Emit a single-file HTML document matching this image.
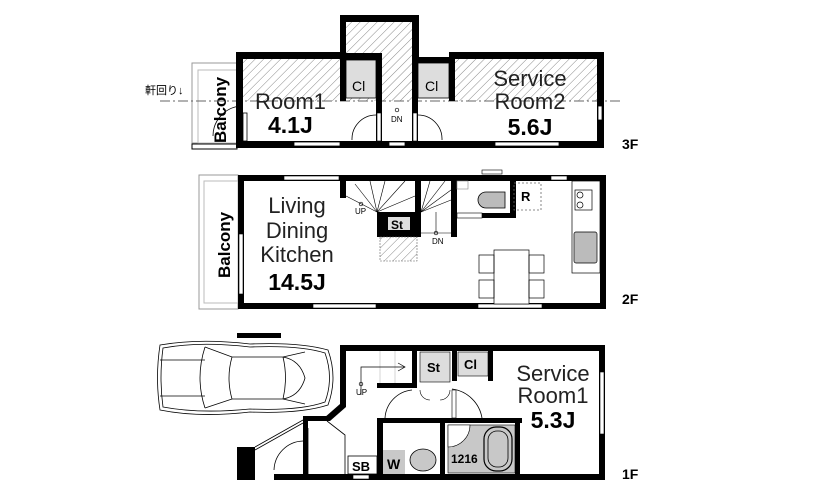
<!DOCTYPE html>
<html><head><meta charset="utf-8"><style>
body{margin:0;background:#fff;}
svg{display:block;font-family:"Liberation Sans","Noto Sans CJK JP",sans-serif;}
</style></head><body>
<svg width="820" height="500" viewBox="0 0 820 500" xmlns="http://www.w3.org/2000/svg">
<defs>
<pattern id="h" width="6" height="6" patternUnits="userSpaceOnUse" patternTransform="rotate(45)">
<line x1="0" y1="0" x2="0" y2="6" stroke="#555" stroke-width="0.7"/>
</pattern>
</defs>
<rect width="820" height="500" fill="#fff"/>

<!-- ===== 3F ===== -->
<g>
<rect x="192" y="63" width="45" height="80" fill="none" stroke="#999" stroke-width="1"/>
<rect x="198" y="70" width="39" height="73" fill="none" stroke="#bbb" stroke-width="1"/>
<rect x="192" y="144" width="45" height="5" fill="#fff" stroke="#000" stroke-width="1"/>
<text x="0" y="0" transform="translate(226,143) rotate(-90)" font-size="17" font-weight="bold">Balcony</text>
<text x="145" y="94" font-size="11">軒回り↓</text>
<rect x="243" y="58" width="97" height="43" fill="url(#h)"/>
<rect x="455" y="58" width="142" height="43" fill="url(#h)"/>
<rect x="346" y="21" width="66" height="80" fill="url(#h)"/>
<rect x="385" y="101" width="27" height="40" fill="#fff"/>
<line x1="160" y1="101" x2="620" y2="101" stroke="#666" stroke-width="1" stroke-dasharray="10,3,2,3"/>
<rect x="236" y="52" width="7" height="96" fill="#000"/>
<rect x="236" y="52" width="110" height="7" fill="#000"/>
<rect x="340" y="15" width="79" height="7" fill="#000"/>
<rect x="340" y="15" width="6" height="86" fill="#000"/>
<rect x="412" y="15" width="7" height="48" fill="#000"/>
<rect x="340" y="53" width="42" height="7" fill="#000"/>
<rect x="376" y="53" width="6" height="90" fill="#000"/>
<rect x="412" y="57" width="43" height="6" fill="#000"/>
<rect x="412" y="57" width="6" height="86" fill="#000"/>
<rect x="449" y="52" width="6" height="49" fill="#000"/>
<rect x="449" y="52" width="155" height="7" fill="#000"/>
<rect x="597" y="52" width="7" height="96" fill="#000"/>
<rect x="236" y="141" width="368" height="7" fill="#000"/>
<rect x="346" y="60" width="30" height="38" fill="#ddd" stroke="#000" stroke-width="0.8"/>
<text x="352" y="91" font-size="14">Cl</text>
<rect x="418" y="63" width="31" height="35" fill="#ddd" stroke="#000" stroke-width="0.8"/>
<text x="425" y="91" font-size="14">Cl</text>
<rect x="243" y="113" width="4" height="28" fill="#fff" stroke="#000" stroke-width="0.8"/>
<rect x="294" y="142" width="46" height="4" fill="#fff" stroke="#000" stroke-width="0.8"/>
<rect x="495" y="142" width="64" height="4" fill="#fff" stroke="#000" stroke-width="0.8"/>
<rect x="389" y="142" width="16" height="4" fill="#fff" stroke="#000" stroke-width="0.8"/>
<rect x="598" y="106" width="4" height="14" fill="#fff" stroke="#000" stroke-width="0.8"/>
<path d="M243 106 A30 30 0 0 0 213 136" fill="none" stroke="#000" stroke-width="0.8"/>
<path d="M376 115 A24 24 0 0 0 352 140" fill="none" stroke="#000" stroke-width="0.8"/>
<path d="M418 115 A24 24 0 0 1 442 140" fill="none" stroke="#000" stroke-width="0.8"/>
<rect x="377" y="113" width="4" height="28" fill="#fff" stroke="#000" stroke-width="0.6"/>
<rect x="413" y="113" width="4" height="28" fill="#fff" stroke="#000" stroke-width="0.6"/>
<circle cx="397" cy="110" r="1.8" fill="none" stroke="#000" stroke-width="0.7"/>
<text x="391" y="122" font-size="8">DN</text>
<text x="255" y="109" font-size="22" fill="#222">Room1</text>
<text x="268" y="133" font-size="23" font-weight="bold">4.1J</text>
<text x="530" y="86" font-size="22" text-anchor="middle" fill="#222">Service</text>
<text x="530" y="109" font-size="22" text-anchor="middle" fill="#222">Room2</text>
<text x="530" y="135" font-size="23" font-weight="bold" text-anchor="middle">5.6J</text>
<text x="622" y="149" font-size="14" font-weight="bold">3F</text>
</g>

<!-- ===== 2F ===== -->
<g>
<rect x="199" y="175" width="39" height="134" fill="none" stroke="#999" stroke-width="1"/>
<rect x="204" y="181" width="34" height="122" fill="none" stroke="#bbb" stroke-width="1"/>
<text x="0" y="0" transform="translate(230,278) rotate(-90)" font-size="17" font-weight="bold">Balcony</text>
<rect x="238" y="175" width="6" height="134" fill="#000"/>
<rect x="238" y="175" width="368" height="6" fill="#000"/>
<rect x="600" y="175" width="6" height="134" fill="#000"/>
<rect x="238" y="303" width="368" height="6" fill="#000"/>
<rect x="239" y="234" width="4" height="60" fill="#fff" stroke="#000" stroke-width="0.6"/>
<rect x="284" y="176" width="55" height="4" fill="#fff" stroke="#000" stroke-width="0.6"/>
<rect x="313" y="304" width="63" height="4" fill="#fff" stroke="#000" stroke-width="0.6"/>
<rect x="478" y="304" width="64" height="4" fill="#fff" stroke="#000" stroke-width="0.6"/>
<rect x="482" y="170" width="20" height="4" fill="#fff" stroke="#000" stroke-width="0.6"/>
<rect x="551" y="176" width="16" height="4" fill="#fff" stroke="#000" stroke-width="0.6"/>
<rect x="340" y="181" width="6" height="17" fill="#000"/>
<rect x="415" y="181" width="6" height="56" fill="#000"/>
<rect x="451" y="181" width="6" height="56" fill="#000"/>
<g stroke="#000" stroke-width="0.6" fill="none">
<line x1="377" y1="212" x2="355" y2="184"/><line x1="377" y1="212" x2="370" y2="181"/>
<line x1="377" y1="212" x2="385" y2="181"/><line x1="377" y1="212" x2="405" y2="181"/>
<line x1="377" y1="212" x2="415" y2="196"/><line x1="377" y1="212" x2="346" y2="196"/>
<line x1="421" y1="212" x2="430" y2="181"/><line x1="421" y1="212" x2="445" y2="181"/>
<line x1="421" y1="212" x2="451" y2="200"/><line x1="421" y1="212" x2="451" y2="190"/>
<line x1="421" y1="233" x2="451" y2="233"/><line x1="436" y1="212" x2="436" y2="233"/>
</g>
<rect x="377" y="212" width="43" height="25" fill="#000"/>
<rect x="388" y="217" width="22" height="13" fill="#ddd"/>
<text x="391" y="229" font-size="12" font-weight="bold">St</text>
<rect x="380" y="237" width="37" height="24" fill="url(#h)" stroke="#666" stroke-width="0.6" stroke-dasharray="2,1"/>
<circle cx="361" cy="204" r="1.8" fill="none" stroke="#000" stroke-width="0.7"/>
<text x="355" y="214" font-size="8">UP</text>
<circle cx="436" cy="233" r="1.8" fill="none" stroke="#000" stroke-width="0.7"/>
<text x="432" y="244" font-size="8">DN</text>
<rect x="510" y="181" width="6" height="37" fill="#000"/>
<rect x="482" y="213" width="34" height="5" fill="#000"/>
<rect x="457" y="213" width="25" height="5" fill="#fff" stroke="#000" stroke-width="0.6"/>
<rect x="457" y="181" width="11" height="8" fill="none" stroke="#888" stroke-width="0.6"/>
<path d="M505 192 H486 A8 8 0 0 0 486 208 H505 Z" fill="#bbb" stroke="#000" stroke-width="0.8"/>
<rect x="514" y="183" width="27" height="27" fill="none" stroke="#666" stroke-width="0.8" stroke-dasharray="2,2"/>
<text x="521" y="201" font-size="13" font-weight="bold">R</text>
<rect x="572" y="181" width="28" height="92" fill="none" stroke="#000" stroke-width="0.7"/>
<rect x="575" y="190" width="17" height="20" fill="none" stroke="#000" stroke-width="0.7"/>
<circle cx="580" cy="195" r="3" fill="none" stroke="#000" stroke-width="0.7"/>
<circle cx="580" cy="205" r="3" fill="none" stroke="#000" stroke-width="0.7"/>
<rect x="574" y="232" width="23" height="31" rx="2" fill="#bbb" stroke="#000" stroke-width="0.7"/>
<rect x="494" y="250" width="35" height="54" fill="#fff" stroke="#000" stroke-width="0.7"/>
<rect x="479" y="255" width="15" height="18" fill="none" stroke="#000" stroke-width="0.7"/>
<rect x="479" y="280" width="15" height="18" fill="none" stroke="#000" stroke-width="0.7"/>
<rect x="529" y="255" width="15" height="18" fill="none" stroke="#000" stroke-width="0.7"/>
<rect x="529" y="280" width="15" height="18" fill="none" stroke="#000" stroke-width="0.7"/>
<text x="297" y="213" font-size="22" text-anchor="middle" fill="#222">Living</text>
<text x="297" y="238" font-size="22" text-anchor="middle" fill="#222">Dining</text>
<text x="297" y="262" font-size="22" text-anchor="middle" fill="#222">Kitchen</text>
<text x="297" y="290" font-size="23" font-weight="bold" text-anchor="middle">14.5J</text>
<text x="622" y="304" font-size="14" font-weight="bold">2F</text>
</g>

<!-- ===== 1F ===== -->
<g>
<rect x="237" y="333" width="44" height="5" fill="#000"/>
<g fill="none" stroke="#000" stroke-width="0.8">
<path d="M160 345 Q155 378 160 410 Q200 418 250 412 Q300 414 328 405 Q338 378 328 350 Q300 342 250 344 Q200 338 160 345 Z"/>
<path d="M163 348 Q159 378 163 407 Q200 414 250 409 Q300 411 325 402 Q334 378 325 353 Q300 345 250 347 Q200 341 163 348 Z"/>
<path d="M205 347 Q195 378 205 408"/><path d="M232 357 Q226 378 232 399"/>
<path d="M283 357 Q288 378 283 399"/><path d="M283 357 Q300 360 305 378 Q300 396 283 399"/>
<path d="M205 347 L232 357 L283 357 L305 352"/><path d="M205 408 L232 399 L283 399 L305 404"/>
<line x1="160" y1="360" x2="205" y2="360"/><line x1="160" y1="396" x2="205" y2="396"/>
</g>
<rect x="340" y="345" width="265" height="6" fill="#000"/>
<rect x="340" y="345" width="6" height="62" fill="#000"/>
<polygon points="340,404 346,407 330,421 324,418" fill="#000"/>
<rect x="303" y="416" width="27" height="5" fill="#000"/>
<rect x="303" y="416" width="5" height="58" fill="#000"/>
<rect x="599" y="345" width="6" height="135" fill="#000"/>
<rect x="274" y="474" width="331" height="6" fill="#000"/>
<rect x="237" y="447" width="18" height="33" fill="#000"/>
<line x1="255" y1="447" x2="303" y2="420" stroke="#000" stroke-width="0.8"/>
<line x1="255" y1="450" x2="303" y2="423" stroke="#000" stroke-width="0.8"/>
<path d="M303 441 A30 30 0 0 0 274 470" fill="none" stroke="#000" stroke-width="0.8"/>
<line x1="308" y1="428" x2="308" y2="474" stroke="#000" stroke-width="0.8"/>
<path d="M327 421 L345 435 L345 474" fill="none" stroke="#000" stroke-width="0.8"/>
<rect x="377" y="383" width="38" height="5" fill="#000"/>
<rect x="412" y="351" width="5" height="37" fill="#000"/>
<rect x="452" y="351" width="5" height="30" fill="#000"/>
<rect x="488" y="351" width="5" height="30" fill="#000"/>
<line x1="380" y1="351" x2="380" y2="383" stroke="#bbb" stroke-width="0.6"/>
<line x1="395" y1="351" x2="395" y2="383" stroke="#bbb" stroke-width="0.6"/>
<path d="M361 395 V367 H405" fill="none" stroke="#000" stroke-width="0.7"/>
<path d="M398 363 L405 367 L398 371" fill="none" stroke="#000" stroke-width="0.7"/>
<circle cx="361" cy="384" r="1.8" fill="none" stroke="#000" stroke-width="0.7"/>
<text x="356" y="395" font-size="8">UP</text>
<rect x="420" y="352" width="30" height="30" fill="#ddd" stroke="#000" stroke-width="0.6"/>
<text x="427" y="372" font-size="13" font-weight="bold">St</text>
<rect x="458" y="352" width="30" height="24" fill="#ddd" stroke="#000" stroke-width="0.6"/>
<text x="464" y="369" font-size="13" font-weight="bold">Cl</text>
<path d="M420 390 A10 10 0 0 0 430 400 M450 390 A10 10 0 0 1 440 400" fill="none" stroke="#000" stroke-width="0.6"/>
<path d="M452 389 A35 35 0 0 1 482 418" fill="none" stroke="#000" stroke-width="0.8"/>
<path d="M412 390 A30 30 0 0 0 385 418" fill="none" stroke="#000" stroke-width="0.8"/>
<rect x="452" y="390" width="4" height="28" fill="#fff" stroke="#000" stroke-width="0.6"/>
<rect x="377" y="418" width="145" height="5" fill="#000"/>
<rect x="377" y="418" width="6" height="56" fill="#000"/>
<rect x="440" y="423" width="5" height="51" fill="#000"/>
<rect x="515" y="418" width="5" height="56" fill="#000"/>
<rect x="448" y="425" width="67" height="48" fill="#c8c8c8" stroke="#000" stroke-width="0.6"/>
<path d="M448 425 H470 A22 22 0 0 1 448 447 Z" fill="#fff" stroke="#000" stroke-width="0.6"/>
<rect x="484" y="427" width="28" height="44" rx="12" fill="none" stroke="#000" stroke-width="1.2"/>
<rect x="488" y="431" width="20" height="36" rx="9" fill="none" stroke="#000" stroke-width="0.8"/>
<text x="451" y="463" font-size="12" font-weight="bold">1216</text>
<rect x="383" y="450" width="22" height="24" fill="#c8c8c8"/>
<text x="387" y="469" font-size="14" font-weight="bold">W</text>
<ellipse cx="423" cy="460" rx="13" ry="11" fill="#c8c8c8" stroke="#000" stroke-width="0.8"/>
<rect x="348" y="456" width="29" height="18" fill="#fff" stroke="#000" stroke-width="0.8"/>
<text x="352" y="471" font-size="13" font-weight="bold">SB</text>
<rect x="600" y="372" width="4" height="62" fill="#fff" stroke="#000" stroke-width="0.6"/>
<rect x="353" y="475" width="16" height="4" fill="#fff" stroke="#000" stroke-width="0.6"/>
<text x="553" y="381" font-size="22" text-anchor="middle" fill="#222">Service</text>
<text x="553" y="403" font-size="22" text-anchor="middle" fill="#222">Room1</text>
<text x="553" y="428" font-size="23" font-weight="bold" text-anchor="middle">5.3J</text>
<text x="622" y="479" font-size="14" font-weight="bold">1F</text>
</g>
</svg>
</body></html>
